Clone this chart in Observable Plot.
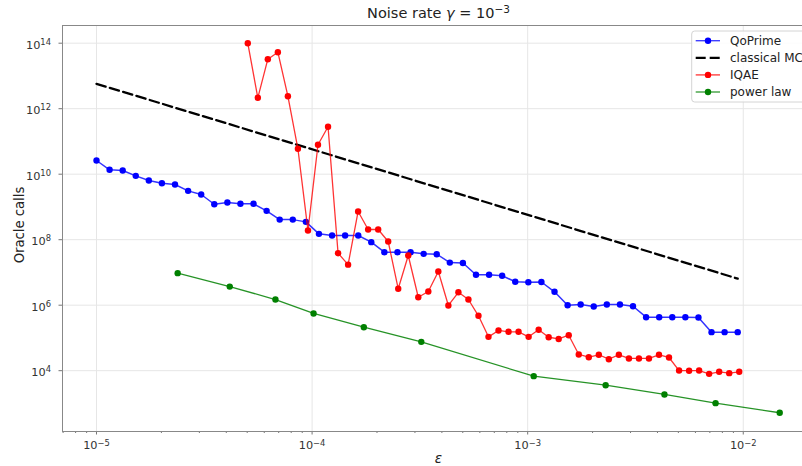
<!DOCTYPE html>
<html>
<head>
<meta charset="utf-8">
<script src="https://cdn.jsdelivr.net/npm/d3@7"></script>
<script src="https://cdn.jsdelivr.net/npm/@observablehq/plot@0.6"></script>
<style>
  html, body { margin: 0; padding: 0; background: #fff; }
  #wrap { position: relative; width: 802px; height: 466px; overflow: hidden; background: #fff; }
  #wrap svg { position: absolute; left: 0; top: 0; max-width: none !important; }
</style>
</head>
<body>
<div id="wrap"></div>
<script>
// ---- data ----
const epsQoPrime = [1.000e-5, 1.150e-5, 1.323e-5, 1.521e-5, 1.749e-5, 2.011e-5, 2.313e-5, 2.660e-5, 3.059e-5, 3.518e-5,
  4.046e-5, 4.652e-5, 5.350e-5, 6.153e-5, 7.076e-5, 8.137e-5, 9.358e-5, 1.076e-4, 1.238e-4, 1.423e-4,
  1.637e-4, 1.882e-4, 2.164e-4, 2.489e-4, 2.863e-4, 3.292e-4, 3.786e-4, 4.354e-4, 5.007e-4, 5.758e-4,
  6.621e-4, 7.614e-4, 8.757e-4, 1.007e-3, 1.158e-3, 1.332e-3, 1.532e-3, 1.761e-3, 2.025e-3, 2.329e-3,
  2.679e-3, 3.080e-3, 3.542e-3, 4.074e-3, 4.685e-3, 5.388e-3, 6.196e-3, 7.125e-3, 8.194e-3, 9.423e-3];
const callsQoPrime = [2.62e10, 1.36e10, 1.30e10, 8.9e9, 6.4e9, 5.3e9, 4.85e9, 3.1e9, 2.4e9, 1.21e9,
  1.37e9, 1.25e9, 1.25e9, 7.6e8, 4.1e8, 4.1e8, 3.5e8, 1.51e8, 1.34e8, 1.34e8,
  1.34e8, 8.4e7, 4.15e7, 4.15e7, 4.15e7, 3.7e7, 3.6e7, 2.0e7, 1.95e7, 8.5e6,
  8.5e6, 7.9e6, 5.2e6, 5.0e6, 5.1e6, 2.56e6, 1.0e6, 1.05e6, 9.1e5, 1.05e6,
  1.05e6, 9.3e5, 4.3e5, 4.3e5, 4.3e5, 4.3e5, 4.2e5, 1.5e5, 1.5e5, 1.5e5];

const epsMC = [1.0e-5, 9.423e-3];
const callsMC = [5.75e12, 6.47e6];

const epsIQAE = [5.032e-5, 5.601e-5, 6.233e-5, 6.938e-5, 7.722e-5, 8.595e-5, 9.570e-5, 1.0651e-4, 1.1858e-4, 1.3198e-4,
  1.4689e-4, 1.6350e-4, 1.8197e-4, 2.0257e-4, 2.2545e-4, 2.5095e-4, 2.7930e-4, 3.1087e-4, 3.4605e-4, 3.8515e-4,
  4.2868e-4, 4.7714e-4, 5.3107e-4, 5.9117e-4, 6.5798e-4, 7.3234e-4, 8.1511e-4, 9.0724e-4, 1.0102e-3, 1.1244e-3,
  1.2514e-3, 1.3929e-3, 1.5503e-3, 1.7258e-3, 1.9208e-3, 2.1380e-3, 2.3796e-3, 2.6485e-3, 2.9485e-3, 3.2817e-3,
  3.6526e-3, 4.0654e-3, 4.5248e-3, 5.0372e-3, 5.6066e-3, 6.2402e-3, 6.9454e-3, 7.7304e-3, 8.6069e-3, 9.5790e-3];
const callsIQAE = [1.0e14, 2.15e12, 3.25e13, 5.31e13, 2.41e12, 5.97e10, 1.91e8, 7.9e10, 2.8e11, 3.87e7,
  1.73e7, 7.26e8, 2.05e8, 2.05e8, 8.8e7, 3.17e6, 3.29e7, 1.75e6, 2.62e6, 1.07e7,
  9.8e5, 2.48e6, 1.49e6, 4.74e5, 1.08e5, 1.69e5, 1.54e5, 1.54e5, 1.08e5, 1.77e5,
  1.05e5, 9.3e4, 1.21e5, 3.13e4, 2.58e4, 3.06e4, 2.24e4, 3.06e4, 2.36e4, 2.36e4,
  2.36e4, 3.06e4, 2.53e4, 1.01e4, 1.0e4, 1.01e4, 8.0e3, 9.25e3, 8.4e3, 9.25e3];

const epsPower = [2.38e-5, 4.15e-5, 6.76e-5, 1.016e-4, 1.738e-4, 3.21e-4, 1.067e-3, 2.30e-3, 4.31e-3, 7.44e-3, 1.476e-2];
const callsPower = [9.5e6, 3.7e6, 1.49e6, 5.6e5, 2.13e5, 7.6e4, 6.8e3, 3.6e3, 1.88e3, 1.02e3, 5.2e2];

const xMajorTicks = [1e-5, 1e-4, 1e-3, 1e-2];
const yMajorTicks = [1e4, 1e6, 1e8, 1e10, 1e12, 1e14];
const seriesNames = ["QoPrime", "classical MC", "IQAE", "power law"];
const seriesColors = ["#0000ff", "#000000", "#ff0000", "#008000"];
const titleText = "Noise rate ";
const titleSymbol = "γ";
const titleExponent = "−3";
const yLabel = "Oracle calls";
const xLabel = "ε";

// ---- build tables ----
const rows = (xs, ys) => xs.map((x, i) => ({x, y: ys[i]}));
const qo = rows(epsQoPrime, callsQoPrime);
const mc = rows(epsMC, callsMC);
const iq = rows(epsIQAE, callsIQAE);
const pw = rows(epsPower, callsPower);

const xDomain = [6.955e-6, 0.02163];
const xMinorTicks = [];
for (let e = -6; e <= -2; e++) for (let m = 2; m <= 9; m++) {
  const v = m * Math.pow(10, e);
  if (v > xDomain[0] && v < xDomain[1]) xMinorTicks.push(v);
}
const fmt = d => "10^" + Math.round(Math.log10(d));
const font = "'DejaVu Sans', sans-serif";

const plot = Plot.plot({
  width: 816,
  height: 466,
  marginLeft: 62,
  marginRight: 1,
  marginTop: 25,
  marginBottom: 35,
  style: {fontFamily: font, fontSize: "11px", color: "#333", background: "#fff"},
  x: {type: "log", domain: xDomain},
  y: {type: "log", domain: [139, 3.47e14]},
  marks: [
    Plot.gridX(xMajorTicks, {stroke: "#e6e6e6", strokeOpacity: 1}),
    Plot.gridY(yMajorTicks, {stroke: "#e6e6e6", strokeOpacity: 1}),
    Plot.axisX(xMinorTicks, {tickSize: 2, tickFormat: () => "", stroke: "#777", label: null}),
    Plot.axisX(xMajorTicks, {tickSize: 3.5, tickFormat: () => "", stroke: "#777", label: null}),
    Plot.axisY(yMajorTicks, {tickSize: 3.5, tickFormat: () => "", stroke: "#777", label: null}),
    Plot.text(xMajorTicks, {x: d => d, text: fmt, frameAnchor: "bottom", lineAnchor: "top", dy: 9.7,
      fontSize: 11.3, fill: "#333", textAnchor: "middle"}),
    Plot.text(yMajorTicks, {y: d => d, text: fmt, frameAnchor: "left", lineAnchor: "middle", dx: -11.5, dy: 1.8,
      fontSize: 11.3, fill: "#333", textAnchor: "end"}),
    Plot.frame({stroke: "#888"}),
    Plot.line(qo, {x: "x", y: "y", stroke: seriesColors[0], strokeWidth: 1.5, strokeOpacity: 0.8}),
    Plot.dot(qo, {x: "x", y: "y", r: 3.2, fill: seriesColors[0]}),
    Plot.line(mc, {x: "x", y: "y", stroke: seriesColors[1], strokeWidth: 2.3, strokeDasharray: "9.5,4.4"}),
    Plot.line(iq, {x: "x", y: "y", stroke: seriesColors[2], strokeWidth: 1.3, strokeOpacity: 0.8}),
    Plot.dot(iq, {x: "x", y: "y", r: 3.2, fill: seriesColors[2]}),
    Plot.line(pw, {x: "x", y: "y", stroke: seriesColors[3], strokeWidth: 1.3, strokeOpacity: 0.85}),
    Plot.dot(pw, {x: "x", y: "y", r: 3.2, fill: seriesColors[3]})
  ]
});
plot.style.maxWidth = "none";
document.getElementById("wrap").appendChild(plot);

const svg = d3.select(plot);
// superscript tick labels
svg.selectAll("text").each(function () {
  const m = /^10\^(-?\d+)$/.exec(this.textContent);
  if (m) {
    this.textContent = "10";
    d3.select(this).append("tspan").attr("dy", "-3.7").attr("font-size", "8.4px").text(m[1].replace("-", "−"));
  }
});

// title
const t = svg.append("text").attr("x", 438.5).attr("y", 18).attr("text-anchor", "middle")
  .attr("font-family", font).attr("font-size", 14.5).attr("fill", "#222");
t.append("tspan").text(titleText);
t.append("tspan").attr("font-style", "italic").text(titleSymbol);
t.append("tspan").text(" = 10");
t.append("tspan").attr("font-size", 10.5).attr("dy", -5.5).text(titleExponent);

// axis labels
svg.append("text").attr("transform", "translate(23.5,225) rotate(-90)").attr("text-anchor", "middle")
  .attr("font-family", font).attr("font-size", 13.2).attr("fill", "#222").text(yLabel);
svg.append("text").attr("x", 438.5).attr("y", 463).attr("text-anchor", "middle")
  .attr("font-family", font).attr("font-style", "italic").attr("font-size", 13.5).attr("fill", "#222").text(xLabel);

// legend
const lg = svg.append("g");
lg.append("rect").attr("x", 691.7).attr("y", 31).attr("width", 122).attr("height", 71).attr("rx", 3)
  .attr("fill", "#fff").attr("fill-opacity", 0.85).attr("stroke", "#d4d4d4");
seriesNames.forEach((name, i) => {
  const cy = 40.7 + i * 17.1;
  const ln = lg.append("line").attr("x1", 695.7).attr("x2", 720).attr("y1", cy).attr("y2", cy)
    .attr("stroke", seriesColors[i]);
  if (i === 1) {
    ln.attr("stroke-width", 2.3).attr("stroke-dasharray", "10,4");
  } else {
    ln.attr("stroke-width", 1.4).attr("stroke-opacity", 0.75);
    lg.append("circle").attr("cx", 708).attr("cy", cy).attr("r", 3.2).attr("fill", seriesColors[i]);
  }
  lg.append("text").attr("x", 730).attr("y", cy + 4.2).attr("text-anchor", "start").attr("font-family", font)
    .attr("font-size", 12).attr("fill", "#222").text(name);
});
</script>
</body>
</html>
